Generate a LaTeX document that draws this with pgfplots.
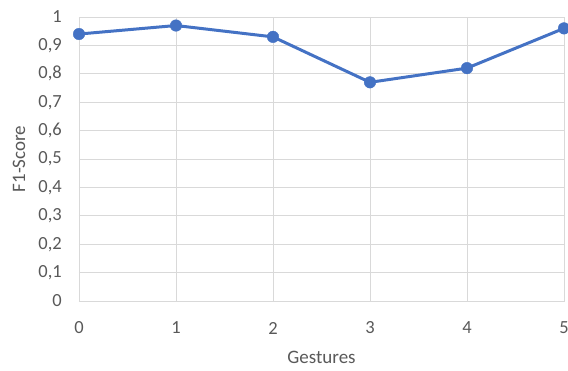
\documentclass[border=0pt]{standalone}
\usepackage{pgfplots}
\pgfplotsset{compat=1.18}
\usepackage{fontspec}
\setmainfont{Carlito}
\definecolor{gridgray}{HTML}{D9D9D9}
\definecolor{txtgray}{HTML}{595959}
\definecolor{lineblue}{HTML}{4472C4}
\begin{document}
\begin{tikzpicture}
\path[use as bounding box] (-79pt,-69pt) rectangle (489pt,301pt);
\begin{axis}[
  at={(0,0)}, anchor=south west,
  scale only axis, width=485pt, height=284pt,
  xmin=0, xmax=5, ymin=0, ymax=1,
  xtick={0,1,2,3,4,5},
  ytick={0,0.1,0.2,0.3,0.4,0.5,0.6,0.7,0.8,0.9,1},
  /pgf/number format/assume math mode=true,
  /pgf/number format/.cd, fixed, use comma, precision=1, /pgfplots/.cd,
  xmajorgrids, ymajorgrids,
  grid style={draw=gridgray, line width=0.9pt},
  axis line style={draw=gridgray, line width=0.9pt},
  major tick length=0pt,
  tick style={draw=none},
  ticklabel style={font=\fontsize{18.5}{21}\selectfont, text=txtgray},
  xticklabel style={anchor=center, yshift=-27pt},
  yticklabel style={anchor=east, inner sep=0pt, xshift=-17pt},
  xlabel={Gestures}, ylabel={F1-Score},
  label style={font=\fontsize{19}{22}\selectfont, text=txtgray},
  xlabel style={at={(axis description cs:0.5,-0.200)}, anchor=center},
  ylabel style={at={(axis description cs:-0.1237,0.5)}, anchor=center, rotate=0},
]
\addplot[color=lineblue, line width=3pt, mark=*, mark size=5.8pt, mark options={fill=lineblue, draw=lineblue, line width=0.4pt}]
  coordinates {(0,0.94) (1,0.97) (2,0.93) (3,0.77) (4,0.82) (5,0.96)};
\end{axis}
\end{tikzpicture}
\end{document}
